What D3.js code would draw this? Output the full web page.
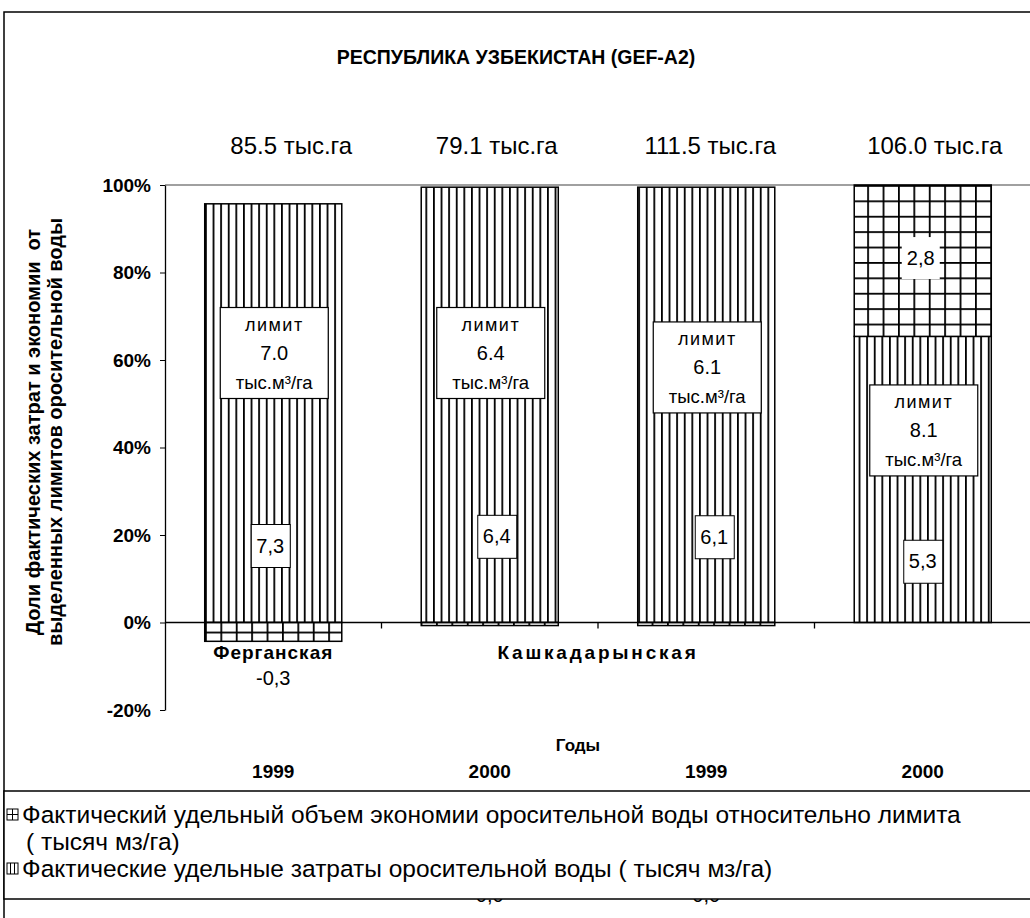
<!DOCTYPE html>
<html lang="ru">
<head>
<meta charset="utf-8">
<title>Республика Узбекистан</title>
<script src="https://cdn.jsdelivr.net/npm/d3@7"></script>
<style>
  body { margin: 0; background: #fff; }
  text { font-family: "Liberation Sans", Arial, sans-serif; fill: #000; }
</style>
</head>
<body>
<script>
// данные
var regions = ["Ферганская", "Кашкадарынская"];
var years = ["1999", "2000", "1999", "2000"];
var areas = ["85.5", "79.1", "111.5", "106.0"];
var limits = ["7.0", "6.4", "6.1", "8.1"];
var actualPct = [95.7, 99.5, 99.5, 65.4];     // факт. затраты, % от лимита
var economyPct = [-4.3, -0.7, -0.7, 34.6];    // экономия, % от лимита
var actualLabels = ["7,3", "6,4", "6,1", "5,3"];
var economyLabels = ["-0,3", "0,0", "0,0", "2,8"];
var yTicks = [-20, 0, 20, 40, 60, 80, 100];

// где стоят подписи (в % оси и сдвиг в px)
var limitBoxTop = [72, 72, 68.7, 54.3];
var actualLabelAt = [17.6, 19.7, 19.6, 14];
var actualShift = [-3, 7, 8, 0];
var areaShift = [18, 7, 4, 12];

var width = 1030, height = 918;
var svg = d3.select("body").append("svg")
  .attr("width", width).attr("height", height);

var defs = svg.append("defs");
var vs = defs.append("pattern").attr("id", "vstripe")
  .attr("patternUnits", "userSpaceOnUse")
  .attr("x", 205).attr("width", 7.6).attr("height", 10);
vs.append("rect").attr("width", 7.6).attr("height", 10).attr("fill", "#fff");
vs.append("line").attr("x1", 0.9).attr("x2", 0.9).attr("y1", 0).attr("y2", 10)
  .attr("stroke", "#000").attr("stroke-width", 1.8);

var gr = defs.append("pattern").attr("id", "grid")
  .attr("patternUnits", "userSpaceOnUse")
  .attr("x", 205).attr("y", 185).attr("width", 15.4).attr("height", 15.4);
gr.append("rect").attr("width", 15.4).attr("height", 15.4).attr("fill", "#fff");
gr.append("line").attr("x1", 0.9).attr("x2", 0.9).attr("y1", 0).attr("y2", 15.4)
  .attr("stroke", "#000").attr("stroke-width", 1.8);
gr.append("line").attr("x1", 0).attr("x2", 15.4).attr("y1", 0.9).attr("y2", 0.9)
  .attr("stroke", "#000").attr("stroke-width", 1.8);

svg.append("rect").attr("width", width).attr("height", height).attr("fill", "#fff");

// рамка
svg.append("rect").attr("x", 4).attr("y", 12).attr("width", 1060).attr("height", 960)
  .attr("fill", "none").attr("stroke", "#000").attr("stroke-width", 1.5);

svg.append("text").attr("x", 516).attr("y", 64)
  .attr("text-anchor", "middle").attr("font-size", 19.5).attr("font-weight", "bold")
  .text("РЕСПУБЛИКА УЗБЕКИСТАН (GEF-A2)");

var x = d3.scaleBand().domain(d3.range(4)).range([165, 1031])
  .paddingInner(0.367).paddingOuter(0.1835);
var y = d3.scaleLinear().domain([-20, 100]).range([710, 185]);

// верхняя граница области построения
svg.append("line").attr("x1", 165).attr("x2", width).attr("y1", y(100)).attr("y2", y(100))
  .attr("stroke", "#808080").attr("stroke-width", 1.5);

// площади
svg.selectAll(".area").data(areas).enter().append("text")
  .attr("class", "area")
  .attr("x", function(d, i) { return x(i) + x.bandwidth() / 2 + areaShift[i]; })
  .attr("y", 154).attr("text-anchor", "middle").attr("font-size", 24)
  .text(function(d) { return d + " тыс.га"; });

// столбцы: фактические затраты
svg.selectAll(".actual").data(actualPct).enter().append("rect")
  .attr("class", "actual")
  .attr("x", function(d, i) { return x(i); })
  .attr("width", x.bandwidth())
  .attr("y", function(d) { return y(d); })
  .attr("height", function(d) { return y(0) - y(d); })
  .attr("fill", "url(#vstripe)").attr("stroke", "#000").attr("stroke-width", 1.5);

// экономия
svg.selectAll(".econ").data(economyPct).enter().append("rect")
  .attr("class", "econ")
  .attr("x", function(d, i) { return x(i); })
  .attr("width", x.bandwidth())
  .attr("y", function(d, i) { return d < 0 ? y(0) : y(actualPct[i] + d); })
  .attr("height", function(d) { return Math.abs(y(0) - y(d)); })
  .attr("fill", "url(#grid)").attr("stroke", "#000").attr("stroke-width", 1.5);

// оси
var yAxis = svg.append("g").attr("transform", "translate(165,0)")
  .call(d3.axisLeft(y).tickValues(yTicks).tickSize(5).tickSizeOuter(0)
    .tickFormat(function(d) { return d + "%"; }));
yAxis.select(".domain").attr("stroke", "#000").attr("stroke-width", 1.3);
yAxis.selectAll("text").attr("font-size", 19).attr("font-weight", "bold")
  .attr("font-family", "Liberation Sans, Arial, sans-serif").attr("dx", -6);

svg.append("line").attr("x1", 165).attr("x2", width).attr("y1", y(0)).attr("y2", y(0))
  .attr("stroke", "#000").attr("stroke-width", 1.3);
svg.selectAll(".xtick").data(d3.range(1, 4)).enter().append("line")
  .attr("x1", function(i) { return x(i) - x.step() * x.paddingInner() / 2; })
  .attr("x2", function(i) { return x(i) - x.step() * x.paddingInner() / 2; })
  .attr("y1", y(0)).attr("y2", y(0) + 6)
  .attr("stroke", "#000").attr("stroke-width", 1.3);

// подписи "лимит"
var lim = svg.selectAll(".lim").data(limits).enter().append("g")
  .attr("transform", function(d, i) {
    return "translate(" + (x(i) + x.bandwidth() / 2 + 1) + "," + y(limitBoxTop[i]) + ")";
  });
lim.append("rect").attr("x", -54).attr("width", 108).attr("height", 91)
  .attr("fill", "#fff").attr("stroke", "#000").attr("stroke-width", 1.2);
lim.append("text").attr("y", 23).attr("text-anchor", "middle").attr("font-size", 18)
  .attr("letter-spacing", 1.5).text("лимит");
lim.append("text").attr("y", 52).attr("text-anchor", "middle").attr("font-size", 20)
  .text(function(d) { return d; });
lim.append("text").attr("y", 81).attr("text-anchor", "middle").attr("font-size", 18.5)
  .text("тыс.м³/га");

// подписи значений
var av = svg.selectAll(".av").data(actualLabels).enter().append("g")
  .attr("transform", function(d, i) {
    return "translate(" + (x(i) + x.bandwidth() / 2 + actualShift[i]) + "," + y(actualLabelAt[i]) + ")";
  });
av.append("rect").attr("x", -19).attr("y", -21).attr("width", 39).attr("height", 43)
  .attr("fill", "#fff").attr("stroke", "#000").attr("stroke-width", 1);
av.append("text").attr("y", 7).attr("text-anchor", "middle").attr("font-size", 20)
  .text(function(d) { return d; });

// экономия 2000, Кашкадарья
var e4 = svg.append("g").attr("transform",
  "translate(" + (x(3) + x.bandwidth() / 2 - 2) + "," + y(83.3) + ")");
e4.append("rect").attr("x", -19).attr("y", -21).attr("width", 38).attr("height", 42)
  .attr("fill", "#fff");
e4.append("text").attr("y", 7).attr("text-anchor", "middle").attr("font-size", 20)
  .text(economyLabels[3]);

// Фергана 1999: отрицательная экономия
svg.append("text").attr("x", x(0) + x.bandwidth() / 2).attr("y", 685)
  .attr("text-anchor", "middle").attr("font-size", 20).text(economyLabels[0]);
// подписи 0,0 почти закрыты легендой
svg.selectAll(".zero").data([1, 2]).enter().append("text")
  .attr("x", function(i) { return x(i) + x.bandwidth() / 2; })
  .attr("y", 902).attr("text-anchor", "middle").attr("font-size", 20)
  .text(function(i) { return economyLabels[i]; });

// регионы
svg.append("text").attr("x", x(0) + x.bandwidth() / 2).attr("y", 659)
  .attr("text-anchor", "middle").attr("font-size", 19).attr("font-weight", "bold")
  .attr("letter-spacing", 1).text(regions[0]);
svg.append("text").attr("x", x(2) - x.step() * x.paddingInner() / 2).attr("y", 659)
  .attr("text-anchor", "middle").attr("font-size", 19).attr("font-weight", "bold")
  .attr("letter-spacing", 2.8).text(regions[1]);

// годы
svg.append("text").attr("x", 578).attr("y", 751).attr("text-anchor", "middle")
  .attr("font-size", 17).attr("font-weight", "bold").text("Годы");
svg.selectAll(".yr").data(years).enter().append("text")
  .attr("x", function(d, i) { return x(i) + x.bandwidth() / 2; })
  .attr("y", 778).attr("text-anchor", "middle")
  .attr("font-size", 19).attr("font-weight", "bold")
  .text(function(d) { return d; });

// заголовок оси Y
var yt = svg.append("text").attr("transform", "translate(40,432) rotate(-90)")
  .attr("text-anchor", "middle").attr("font-size", 20).attr("font-weight", "bold")
  .attr("xml:space", "preserve");
yt.append("tspan").attr("x", 0).attr("y", 0).text("Доли фактических затрат и экономии  от");
yt.append("tspan").attr("x", 0).attr("y", 22).text("выделенных лимитов оросительной воды");

// легенда
svg.append("rect").attr("x", 4).attr("y", 791).attr("width", 1060).attr("height", 108)
  .attr("fill", "#fff").attr("stroke", "#000").attr("stroke-width", 1.5);
var lg = svg.append("g");
lg.append("rect").attr("x", 7).attr("y", 809).attr("width", 11).attr("height", 11)
  .attr("fill", "#fff").attr("stroke", "#000");
lg.append("line").attr("x1", 7).attr("x2", 18).attr("y1", 814.5).attr("y2", 814.5).attr("stroke", "#000");
lg.append("line").attr("x1", 12.5).attr("x2", 12.5).attr("y1", 809).attr("y2", 820).attr("stroke", "#000");
lg.append("rect").attr("x", 7).attr("y", 863).attr("width", 11).attr("height", 11)
  .attr("fill", "#fff").attr("stroke", "#000");
lg.selectAll(".st").data([10.5, 14.5]).enter().append("line")
  .attr("x1", function(d) { return d; }).attr("x2", function(d) { return d; })
  .attr("y1", 863).attr("y2", 874).attr("stroke", "#000");
lg.append("text").attr("x", 22).attr("y", 823).attr("font-size", 24.5)
  .text("Фактический удельный объем экономии оросительной воды относительно лимита");
lg.append("text").attr("x", 26).attr("y", 850).attr("font-size", 24.5)
  .text("( тысяч мз/га)");
lg.append("text").attr("x", 22).attr("y", 877).attr("font-size", 24.5)
  .text("Фактические удельные затраты оросительной воды ( тысяч мз/га)");
</script>
</body>
</html>
